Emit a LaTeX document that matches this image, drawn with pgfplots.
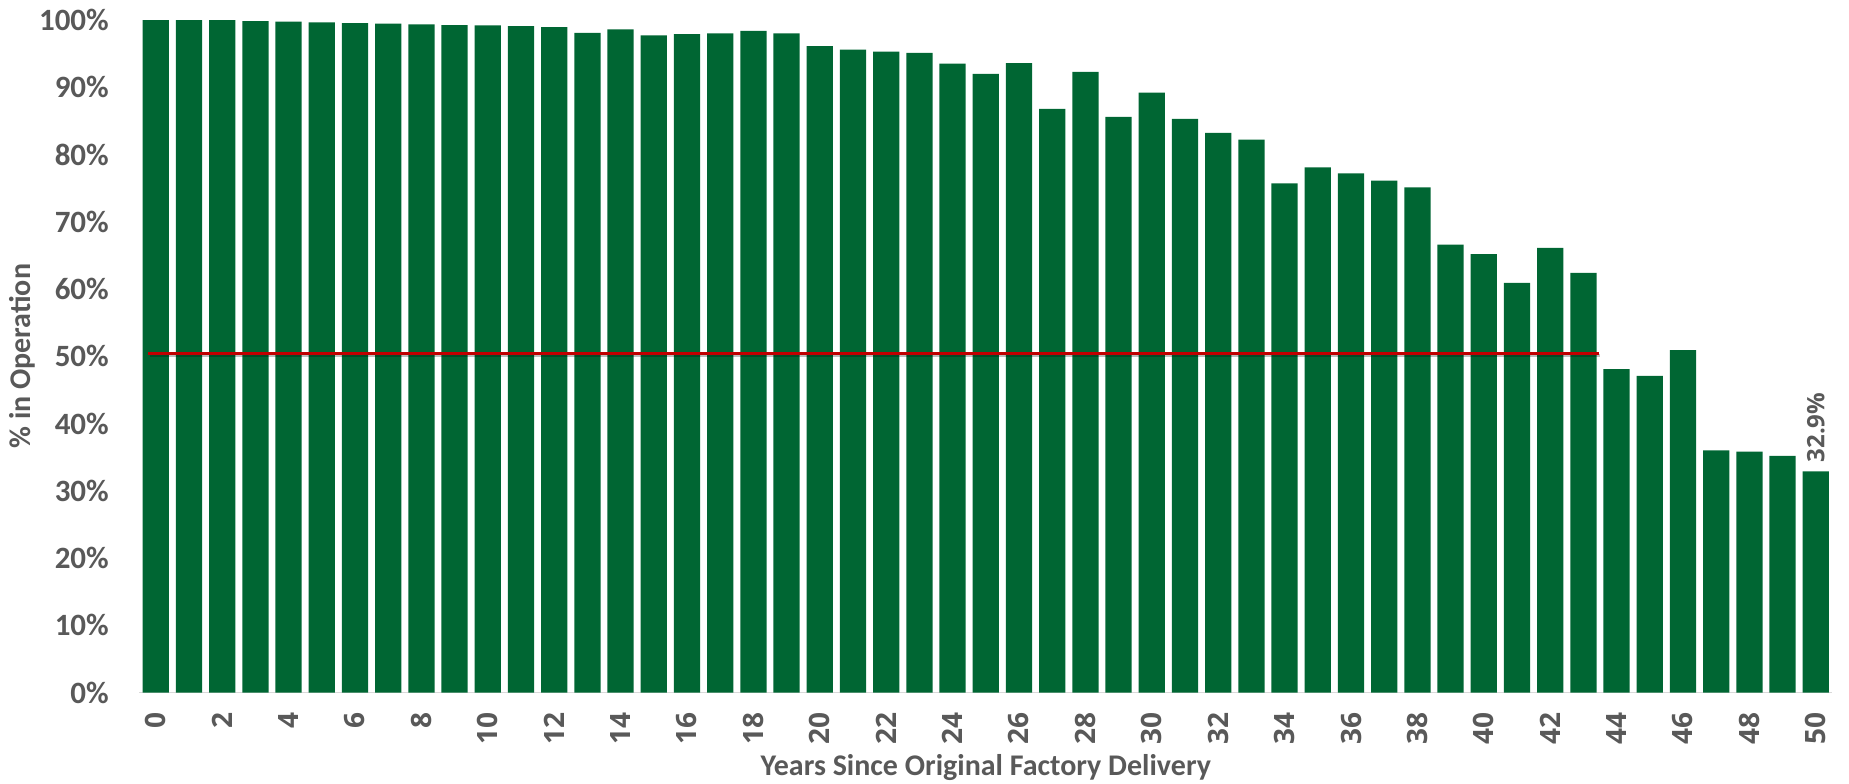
\documentclass[border=0pt]{standalone}
\usepackage{fontspec}
\setmainfont{Carlito}
\newfontfamily\tickfont{Open Sans}
\usepackage{pgfplots}
\pgfplotsset{compat=1.18}
\definecolor{barcol}{HTML}{006633}
\definecolor{txtgray}{HTML}{595959}
\definecolor{axgray}{HTML}{D9D9D9}
\definecolor{refred}{HTML}{C00000}
\begin{document}
\begin{tikzpicture}
\begin{axis}[
  scale only axis,
  width=846.6pt, height=336.25pt,
  xmin=-0.5, xmax=50.5, ymin=0, ymax=100,
  enlargelimits=false,
  ybar, bar width=0.79, bar shift=0pt,
  axis x line*=bottom, axis y line*=left,
  x axis line style={draw=axgray, line width=0.8pt},
  y axis line style={draw=none},
  major tick length=0pt,
  xtick={0,2,...,50},
  xticklabels={0,2,4,6,8,10,12,14,16,18,20,22,24,26,28,30,32,34,36,38,40,42,44,46,48,50},
  xticklabel shift=9.6pt,
  xticklabel style={rotate=90, anchor=east, inner sep=0pt, font=\tickfont\bfseries\fontsize{14pt}{16pt}\selectfont, text=txtgray},
  ytick={0,10,...,100},
  yticklabels={0\%,10\%,20\%,30\%,40\%,50\%,60\%,70\%,80\%,90\%,100\%},
  yticklabel style={anchor=east, inner sep=0pt, xshift=-15pt, font=\bfseries\fontsize{15.5pt}{18pt}\selectfont, text=txtgray},
  xlabel={Years Since Original Factory Delivery},
  ylabel={\% in Operation},
  xlabel style={at={(axis description cs:0.5,-0.1227)}, anchor=base, font=\bfseries\fontsize{15pt}{18pt}\selectfont, text=txtgray},
  ylabel style={at={(axis description cs:-0.0689,0.5)}, anchor=center, rotate=0, font=\bfseries\fontsize{15pt}{18pt}\selectfont, text=txtgray},
  clip=false,
]
\addplot[fill=barcol, draw=none] coordinates {
(0,100) (1,100) (2,100) (3,99.85) (4,99.75) (5,99.65) (6,99.55) (7,99.45) (8,99.35) (9,99.25)
(10,99.2) (11,99.1) (12,98.95) (13,98.1) (14,98.6) (15,97.7) (16,97.9) (17,98.0) (18,98.4) (19,98.0)
(20,96.1) (21,95.6) (22,95.3) (23,95.1) (24,93.5) (25,92.0) (26,93.6) (27,86.8) (28,92.3) (29,85.6)
(30,89.2) (31,85.3) (32,83.2) (33,82.2) (34,75.7) (35,78.1) (36,77.2) (37,76.1) (38,75.1) (39,66.6)
(40,65.2) (41,60.9) (42,66.1) (43,62.4) (44,48.1) (45,47.1) (46,50.9) (47,36.0) (48,35.8) (49,35.2)
(50,32.9)
};
\addplot[draw=none, fill=none,
  nodes near coords={32.9\%},
  every node near coord/.style={rotate=90, anchor=west, inner sep=4.3pt, font=\tickfont\bfseries\fontsize{12pt}{14pt}\selectfont, text=txtgray}
] coordinates {(50,32.9)};
\addplot[sharp plot, draw=black, opacity=0.25, line width=1.5pt, yshift=-1pt, xshift=0.6pt] coordinates {(-0.22,50.4) (43.47,50.4)};
\addplot[sharp plot, draw=refred, line width=1.4pt] coordinates {(-0.22,50.4) (43.47,50.4)};
\end{axis}
\pgfresetboundingbox
\path[use as bounding box] (-69.6pt,-45.25pt) rectangle (854.9pt,346.25pt);
\end{tikzpicture}
\end{document}
